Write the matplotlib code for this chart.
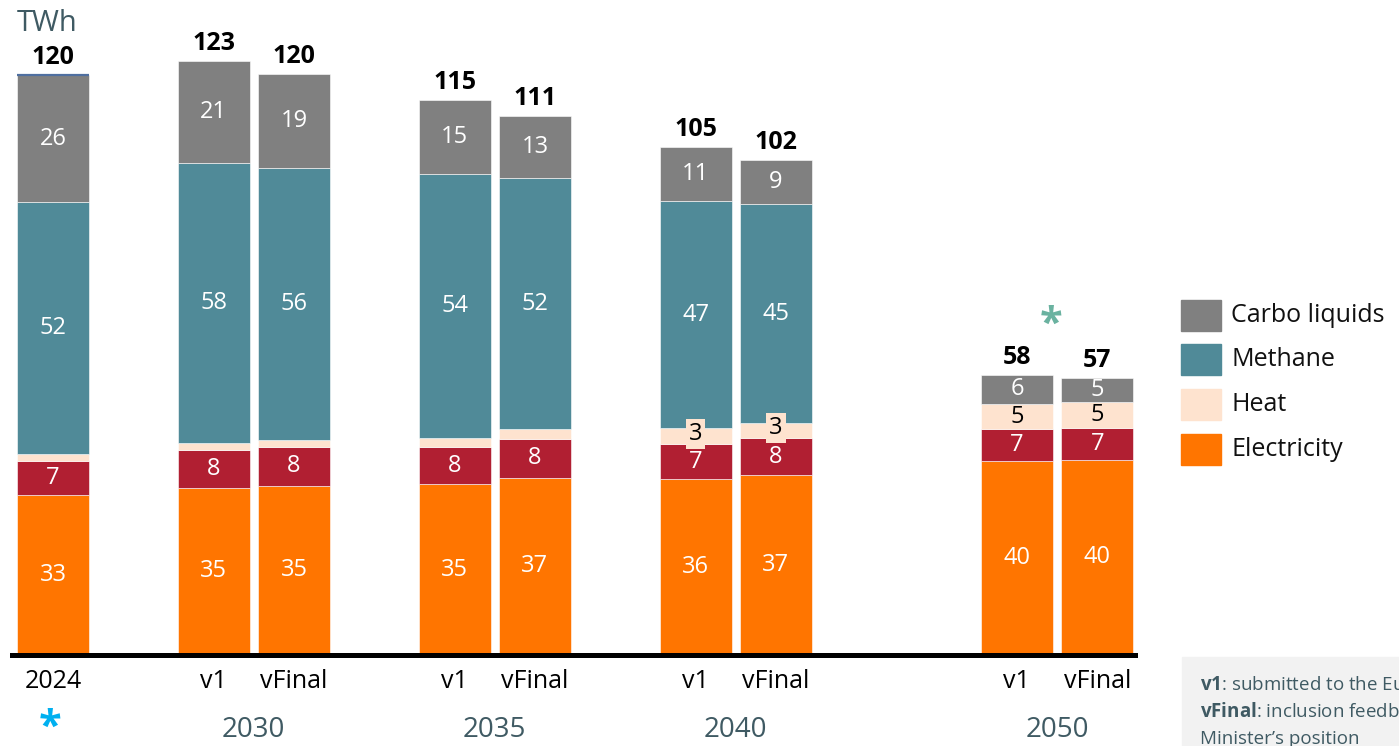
import matplotlib
matplotlib.use("Agg")
import matplotlib.pyplot as plt
from matplotlib.patches import Rectangle
import numpy as np

FONT = "Open Sans"
plt.rcParams['font.family'] = [FONT, 'DejaVu Sans']
plt.rcParams['mathtext.fontset'] = 'custom'
plt.rcParams['mathtext.rm'] = FONT
plt.rcParams['mathtext.bf'] = FONT + ':bold'

# ---------------- data ----------------
bar_labels = ["2024", "v1", "vFinal", "v1", "vFinal", "v1", "vFinal", "v1", "vFinal"]
group_years = ["2030", "2035", "2040", "2050"]
series_names = ["Carbo liquids", "Methane", "Heat", "Electricity"]

electricity = [33.0, 34.6, 35.0, 35.3, 36.6, 36.3, 37.2, 40.0, 40.3]
el_red = [7.0, 7.8, 8.0, 7.6, 8.0, 7.2, 7.6, 6.6, 6.7]
heat = [1.5, 1.4, 1.4, 2.0, 2.0, 3.3, 3.1, 5.3, 5.3]
methane = [52.0, 57.8, 56.3, 54.4, 52.0, 47.1, 45.2, 0.0, 0.0]
carbo = [26.4, 21.2, 19.3, 15.3, 12.8, 11.0, 9.1, 6.0, 4.9]

# ---------------- style ----------------
C_CARBO = "#808080"
C_METH = "#508A98"
C_HEAT = "#FEE3CF"
C_RED = "#B11F32"
C_ELEC = "#FF7500"
C_SLATE = "#3F5A63"

W, H = 1399, 746
fig = plt.figure(figsize=(W / 100, H / 100), dpi=100)

# layout positions (bar index slots)
pos = np.array([0, 2, 3, 5, 6, 8, 9, 12, 13], dtype=float)
group_pos = [(pos[1] + pos[2]) / 2, (pos[3] + pos[4]) / 2,
             (pos[5] + pos[6]) / 2, (pos[7] + pos[8]) / 2]

base_px = 655
ax = fig.add_axes([12 / W, (H - base_px) / H, (1135 - 12) / W, base_px / H])
ax.set_xlim(-0.51, 13.47)
ax.set_ylim(0, base_px / 4.84)

bw = 0.897
stack = [(electricity, C_ELEC, "white"), (el_red, C_RED, "white"),
         (heat, C_HEAT, "black"), (methane, C_METH, "white"),
         (carbo, C_CARBO, "white")]
bottom = np.zeros(len(pos))
for vals, col, tcol in stack:
    vals = np.array(vals)
    ax.bar(pos, vals, bw, bottom=bottom, color=col, edgecolor="white",
           linewidth=0.4, zorder=2)
    for x, b, v in zip(pos, bottom, vals):
        if v >= 2.5:
            kw = {}
            yc = b + v / 2
            if col == C_HEAT and v < 4:
                kw = dict(bbox=dict(boxstyle="square,pad=0.12", fc=C_HEAT, ec="none"))
                yc = b + v / 2 + 0.5
            ax.text(x, yc, f"{v:.0f}", ha="center", va="center",
                    color=tcol, fontsize=17, zorder=5, **kw)
    bottom = bottom + vals

totals = bottom
# thin line on top of the 2024 bar
ax.hlines(totals[0], pos[0] - bw / 2, pos[0] + bw / 2, color="#4F6FA0", lw=1.6, zorder=3)

for x, t in zip(pos, totals):
    ax.annotate(f"{t:.0f}", xy=(x, t), xytext=(0, 11), textcoords="offset pixels",
                ha="center", va="baseline", fontsize=18, fontweight="bold", color="black")

# x labels
for x, lab in zip(pos, bar_labels):
    ax.annotate(lab, xy=(x, 0), xycoords=("data", "axes fraction"), xytext=(0, -33),
                textcoords="offset pixels", ha="center", va="baseline",
                fontsize=18, color="black", annotation_clip=False)
for x, lab in zip(group_pos, group_years):
    ax.annotate(lab, xy=(x, 0), xycoords=("data", "axes fraction"), xytext=(0, -82),
                textcoords="offset pixels", ha="center", va="baseline",
                fontsize=20, color=C_SLATE, annotation_clip=False)

for s in ["top", "left", "right"]:
    ax.spines[s].set_visible(False)
ax.spines["bottom"].set_linewidth(3.6)
ax.spines["bottom"].set_color("black")
ax.spines["bottom"].set_zorder(4)
ax.set_xticks([])
ax.set_yticks([])

# asterisks
ax.annotate(r"$\mathbf{*}$", xy=(pos[0], 0), xycoords=("data", "axes fraction"), xytext=(-3, -72),
            textcoords="offset pixels", ha="center", va="center", fontsize=30,
            color="#00B0F0", annotation_clip=False)
ax.annotate(r"$\mathbf{*}$", xy=(group_pos[3], totals[7]), xytext=(-6, 51), textcoords="offset pixels",
            ha="center", va="center", fontsize=30, color="#6AB2A0", annotation_clip=False)

# unit
fig.text(17 / W, 1 - 31 / H, "TWh", fontsize=21, color=C_SLATE, va="baseline", ha="left")

# legend (manual)
leg_cols = [C_CARBO, C_METH, C_HEAT, C_ELEC]
leg_tops = [300, 344, 389, 434]
for name, col, top in zip(series_names, leg_cols, leg_tops):
    fig.add_artist(Rectangle((1181 / W, 1 - (top + 31) / H), 40 / W, 31 / H,
                             transform=fig.transFigure, color=col))
    fig.text(1231 / W, 1 - (top + 15.5) / H, name, fontsize=18, color="#111111",
             va="center", ha="left")

# note box
fig.add_artist(Rectangle((1182 / W, 0), (W - 1182) / W, (H - 657) / H,
                         transform=fig.transFigure, color="#F2F2F2", zorder=0))
note_lines = [r"$\mathbf{v1}$: submitted to the European Commission",
              r"$\mathbf{vFinal}$: inclusion feedback and",
              r"Minister’s position"]
for i, line in enumerate(note_lines):
    fig.text(1200 / W, 1 - (690 + 27 * i) / H, line, fontsize=13.5, color=C_SLATE,
             va="baseline", ha="left")

fig.savefig("out.png", dpi=100)
